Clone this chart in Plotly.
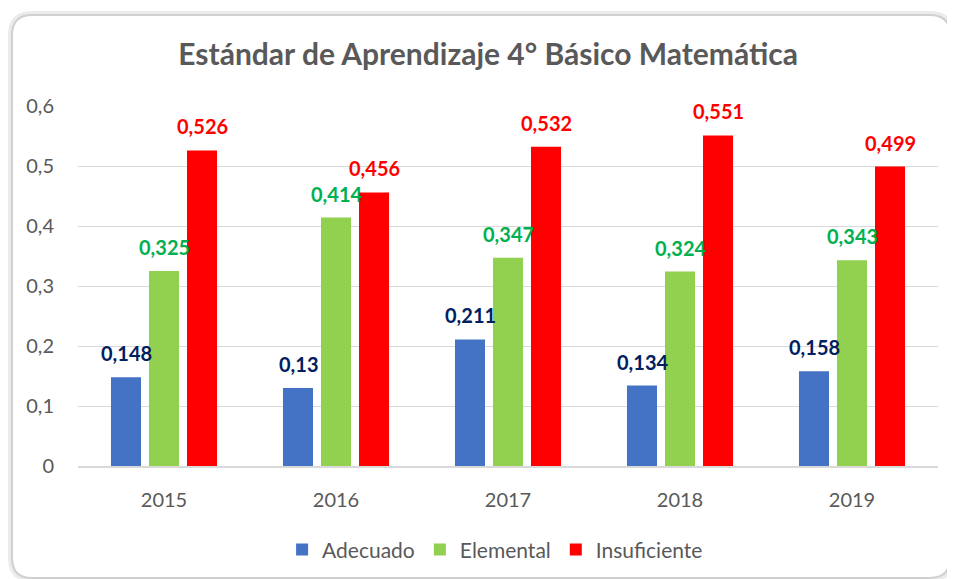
import plotly.graph_objects as go

years = ["2015", "2016", "2017", "2018", "2019"]
adecuado = [0.148, 0.13, 0.211, 0.134, 0.158]
elemental = [0.325, 0.414, 0.347, 0.324, 0.343]
insuficiente = [0.526, 0.456, 0.532, 0.551, 0.499]
series_names = ["Adecuado", "Elemental", "Insuficiente"]
bar_colors = ["#4472C4", "#92D050", "#FF0000"]
label_colors = ["#002060", "#00B050", "#FF0000"]
y_tickvals = [0, 0.1, 0.2, 0.3, 0.4, 0.5, 0.6]
y_ticktext = ["0", "0,1", "0,2", "0,3", "0,4", "0,5", "0,6"]
title_text = "Estándar de Aprendizaje 4° Básico Matemática"

FONT = "Lato"
GRAY = "#595959"

fig = go.Figure()
all_series = [adecuado, elemental, insuficiente]
for name, vals, col in zip(series_names, all_series, bar_colors):
    fig.add_trace(go.Bar(x=years, y=vals, name=name,
                         marker=dict(color=col, line=dict(width=0))))

fig.update_xaxes(type="category", categoryorder="array", categoryarray=years)

annotations = []
shifts = [-38, 0, 38]
for vals, lc, sh in zip(all_series, label_colors, shifts):
    for i, v in enumerate(vals):
        annotations.append(dict(
            x=i, y=v, xref="x", yref="y", text=str(v).replace(".", ","),
            showarrow=False, xshift=sh, yshift=24, yanchor="middle",
            font=dict(family=FONT, size=20, color=lc, weight="bold")))

# figure is drawn 8px in from the page corner (body margin), so sizes are reduced by 8
fig.update_layout(
    width=947, height=571,
    margin=dict(l=70, r=17, t=98, b=113, autoexpand=False),
    paper_bgcolor="white", plot_bgcolor="white",
    barmode="group", bargap=0.337, bargroupgap=0.21,
    title=dict(text=title_text, x=0.507, xanchor="center", y=0.918, yanchor="middle",
               font=dict(family=FONT, size=30, color=GRAY, weight="bold")),
    font=dict(family=FONT, color=GRAY, size=17),
    annotations=annotations,
    showlegend=True,
    legend=dict(orientation="h", x=0.485, xanchor="center", y=-0.233, yanchor="middle",
                font=dict(size=21, color=GRAY), itemwidth=30, traceorder="normal"),
)
fig.update_xaxes(showgrid=False, showline=True, linecolor="#D9D9D9", linewidth=2,
                 ticks="", ticklabelstandoff=15, tickfont=dict(size=20, color=GRAY))
fig.update_yaxes(range=[0, 0.6], tickvals=y_tickvals, ticktext=y_ticktext,
                 showgrid=True, gridcolor="#D9D9D9", gridwidth=1, zeroline=False,
                 showline=False, ticks="", ticklabelstandoff=23,
                 tickfont=dict(size=20, color=GRAY))

# rounded frame around the chart (soft outer shadow + border)
def frame_path(x0, x1, y0, y1, rx, ry):
    return (f"M {x0+rx},{y1} L {x1-rx},{y1} Q {x1},{y1} {x1},{y1-ry} "
            f"L {x1},{y0+ry} Q {x1},{y0} {x1-rx},{y0} L {x0+rx},{y0} "
            f"Q {x0},{y0} {x0},{y0+ry} L {x0},{y1-ry} Q {x0},{y1} {x0+rx},{y1} Z")

px_x, px_y = 1 / 860, 1 / 360
fig.add_shape(type="path", xref="paper", yref="paper", layer="below",
              path=frame_path(-0.0767 - 2 * px_x, 1.014 + 2 * px_x, -0.311 - 2 * px_y,
                              1.253 + 2 * px_y, 22 * px_x, 22 * px_y),
              line=dict(color="#EBEBEB", width=4))
fig.add_shape(type="path", xref="paper", yref="paper", layer="below",
              path=frame_path(-0.0767, 1.014, -0.311, 1.253, 20 * px_x, 20 * px_y),
              line=dict(color="#D0D0D0", width=2))

fig.write_html("out.html")
